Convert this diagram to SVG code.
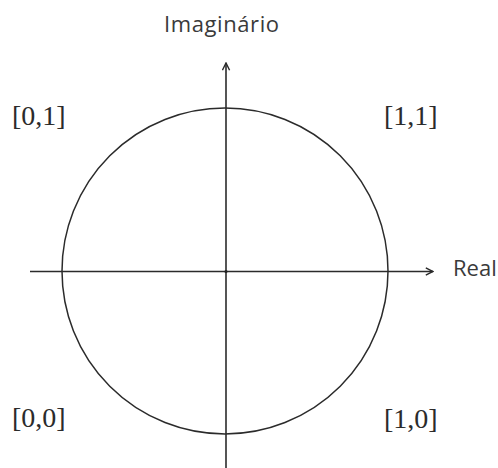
<svg xmlns="http://www.w3.org/2000/svg" width="498" height="468" viewBox="0 0 498 468">
<style>
.ax{stroke:#2b2b2b;stroke-width:1.6;fill:none}
.circ{stroke:#2b2b2b;stroke-width:1.5;fill:none}
.lbl{font-family:"Open Sans","Liberation Sans",sans-serif;font-size:22px;fill:#3a3a3a}
.pt{font-family:"Liberation Serif","DejaVu Serif",serif;font-size:28px;fill:#2b2b2b}
</style>
<defs>
<marker id="arr" viewBox="0 0 10 10" refX="9" refY="5" markerWidth="9" markerHeight="9" markerUnits="userSpaceOnUse" orient="auto">
<path d="M1,1 L9,5 L1,9" fill="none" stroke="#2b2b2b" stroke-width="1.6"/>
</marker>
</defs>
<rect width="498" height="468" fill="#ffffff"/>
<g id="circle"><circle class="circ" cx="225" cy="271" r="163"/></g>
<g id="connectors">
<line class="ax" x1="30" y1="271.5" x2="433" y2="271.5" marker-end="url(#arr)"/>
<line class="ax" x1="226" y1="468" x2="226" y2="63" marker-end="url(#arr)"/>
<circle cx="226" cy="271.5" r="1.6" fill="#222"/>
</g>
<g id="imag"><text class="lbl" x="164" y="32" textLength="115" lengthAdjust="spacing">Imaginário</text></g>
<g id="real"><text class="lbl" x="453" y="276">Real</text></g>
<g id="p01"><text class="pt" x="12" y="125">[0,1]</text></g>
<g id="p11"><text class="pt" x="384" y="125">[1,1]</text></g>
<g id="p00"><text class="pt" x="12" y="427">[0,0]</text></g>
<g id="p10"><text class="pt" x="384" y="428">[1,0]</text></g>
</svg>
